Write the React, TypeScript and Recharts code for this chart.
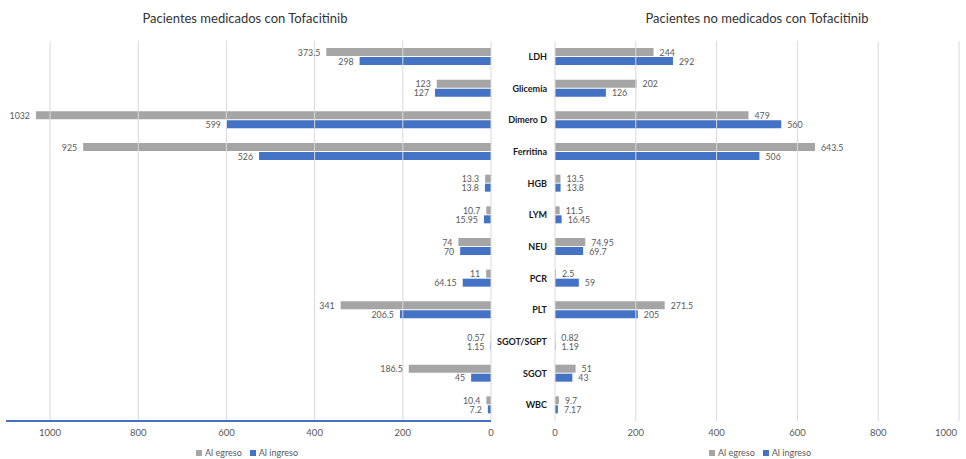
import React from 'react';
import { BarChart, Bar, XAxis, YAxis, LabelList, ReferenceLine } from 'recharts';

const categories = ['LDH', 'Glicemia', 'Dimero D', 'Ferritina', 'HGB', 'LYM', 'NEU', 'PCR', 'PLT', 'SGOT/SGPT', 'SGOT', 'WBC'];

// Pacientes medicados con Tofacitinib
const medEgreso = [373.5, 123, 1032, 925, 13.3, 10.7, 74, 11, 341, 0.57, 186.5, 10.4];
const medIngreso = [298, 127, 599, 526, 13.8, 15.95, 70, 64.15, 206.5, 1.15, 45, 7.2];

// Pacientes no medicados con Tofacitinib
const noMedEgreso = [244, 202, 479, 643.5, 13.5, 11.5, 74.95, 2.5, 271.5, 0.82, 51, 9.7];
const noMedIngreso = [292, 126, 560, 506, 13.8, 16.45, 69.7, 59, 205, 1.19, 43, 7.17];

const ticks = [0, 200, 400, 600, 800, 1000];

const GRAY = '#A5A5A5';
const BLUE = '#4472C4';
const FONT = 'Lato, "Open Sans", sans-serif';
const TEXT = '#595959';

const medData = categories.map((cat, i) => ({ cat, egreso: medEgreso[i], ingreso: medIngreso[i] }));
const noMedData = categories.map((cat, i) => ({ cat, egreso: noMedEgreso[i], ingreso: noMedIngreso[i] }));

const tickStyle = { fontSize: 9.5, fill: TEXT, fontFamily: FONT };

const LeftLabel = (props: any) => {
  const { x, y, width, height, value } = props;
  const end = Math.min(x, x + width);
  return (
    <text x={end - 6} y={y + height / 2} textAnchor="end" dominantBaseline="central"
      fontSize={8.8} fill={TEXT} fontFamily={FONT}>{value}</text>
  );
};

const RightLabel = (props: any) => {
  const { x, y, width, height, value } = props;
  const end = Math.max(x, x + width);
  return (
    <text x={end + 6} y={y + height / 2} textAnchor="start" dominantBaseline="central"
      fontSize={8.8} fill={TEXT} fontFamily={FONT}>{value}</text>
  );
};

const RightTick = (props: any) => {
  const { x, y, payload } = props;
  const shift = payload.value === 1000 ? -4 : 0;
  return (
    <text x={x + shift} y={y} dy="0.71em" textAnchor="middle" {...tickStyle}>{payload.value}</text>
  );
};

const Legend = ({ center }: { center: number }) => (
  <div style={{
    position: 'absolute', top: 447, left: center - 60, width: 120, textAlign: 'center',
    fontFamily: FONT, fontSize: 9, color: TEXT, whiteSpace: 'nowrap',
  }}>
    <span style={{ display: 'inline-block', width: 6, height: 6, background: GRAY, marginRight: 3 }} />
    Al egreso
    <span style={{ display: 'inline-block', width: 6, height: 6, background: BLUE, marginLeft: 8, marginRight: 3 }} />
    Al ingreso
  </div>
);

const Title = ({ center, text }: { center: number; text: string }) => (
  <div style={{
    position: 'absolute', top: 10, left: center - 150, width: 300, textAlign: 'center',
    fontFamily: FONT, fontSize: 13, color: '#333333',
  }}>{text}</div>
);

// grid lines at the tick values only
const gridLines = ticks.map((t) => (
  <ReferenceLine key={t} x={t} stroke="#D9D9D9" strokeWidth={1} ifOverflow="visible" />
));

export default function App() {
  return (
    <div style={{ position: 'absolute', left: 0, top: 0, width: 966, height: 459, background: '#fff', overflow: 'hidden' }}>
      <Title center={245} text="Pacientes medicados con Tofacitinib" />
      <Title center={757} text="Pacientes no medicados con Tofacitinib" />

      <div style={{ position: 'absolute', left: 0, top: 0 }}>
        <BarChart width={500} height={459} data={medData} layout="vertical"
          margin={{ top: 41, right: 9, left: 6, bottom: 18 }} barSize={8} barGap={1}>
          <XAxis type="number" reversed domain={[0, 1100]} ticks={ticks} height={20}
            tick={tickStyle} tickLine={false} axisLine={{ stroke: BLUE, strokeWidth: 2 }} />
          <YAxis type="category" dataKey="cat" hide />
          {gridLines}
          <Bar dataKey="egreso" fill={GRAY} isAnimationActive={false}>
            <LabelList dataKey="egreso" content={LeftLabel} />
          </Bar>
          <Bar dataKey="ingreso" fill={BLUE} isAnimationActive={false}>
            <LabelList dataKey="ingreso" content={LeftLabel} />
          </Bar>
        </BarChart>
      </div>

      <div style={{ position: 'absolute', left: 490, top: 0 }}>
        <BarChart width={476} height={459} data={noMedData} layout="vertical"
          margin={{ top: 41, right: 7, left: 0, bottom: 18 }} barSize={8} barGap={1}>
          <XAxis type="number" domain={[0, 1000]} ticks={ticks} height={20}
            tick={RightTick} tickLine={false} axisLine={false} />
          <YAxis type="category" dataKey="cat" width={65} tickLine={false} axisLine={false}
            tick={{ fontSize: 9, fill: '#1A1A1A', fontWeight: 700, fontFamily: FONT }} />
          {gridLines}
          <Bar dataKey="egreso" fill={GRAY} isAnimationActive={false}>
            <LabelList dataKey="egreso" content={RightLabel} />
          </Bar>
          <Bar dataKey="ingreso" fill={BLUE} isAnimationActive={false}>
            <LabelList dataKey="ingreso" content={RightLabel} />
          </Bar>
        </BarChart>
      </div>

      <Legend center={247} />
      <Legend center={760} />
    </div>
  );
}
